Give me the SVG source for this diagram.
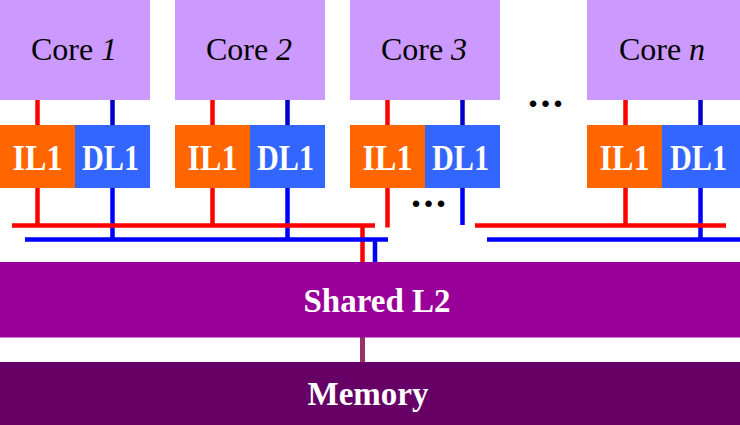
<svg xmlns="http://www.w3.org/2000/svg" width="740" height="425" viewBox="0 0 740 425">
<style>
.core{fill:#CC99FF}
.il1{fill:#FF6600}
.dl1{fill:#3366FF}
text{font-family:'Liberation Serif',serif}
.ct{font-size:32px;fill:#000;text-anchor:middle}
.lt{font-size:35px;font-weight:bold;fill:#fff;text-anchor:middle}
.bt{font-size:33px;font-weight:bold;fill:#fff;text-anchor:middle}
.dots{font-size:40px;font-weight:bold;fill:#000;letter-spacing:2.5px}
.r{stroke:#FF0000;stroke-width:4.5;fill:none}
.bu{stroke:#0000CC;stroke-width:4.5;fill:none}
.b{stroke:#0000FF;stroke-width:4.5;fill:none}
</style>
<rect width="740" height="425" fill="#fff"/>
<g id="connectors">
<path class="r" d="M37.5 100V125M212.5 100V125M387.5 100V125M625.5 100V125"/>
<path class="bu" d="M112.5 100V125M287.5 100V125M462.5 100V125M700.5 100V125"/>
<path class="r" d="M37.5 188V225.5M212.5 188V225.5M387.5 188V227.5M625.5 188V225.5"/>
<path class="b" d="M112.5 188V239.5M287.5 188V239.5M462.5 188V225M700.5 188V239.5"/>
<path class="r" d="M12 225.5H375M362.5 225.5V262M475 225.5H726"/>
<path class="b" d="M25 239.5H388M375 239.5V262M487 239.5H740"/>
<path d="M362.5 337V362" stroke="#993366" stroke-width="5" fill="none"/>
</g>
<g id="core1"><rect class="core" x="0" y="0" width="150" height="100"/><text class="ct" x="74" y="60" font-family="Liberation Serif">Core <tspan font-style="italic">1</tspan></text></g>
<g id="core2"><rect class="core" x="175" y="0" width="150" height="100"/><text class="ct" x="249" y="60" font-family="Liberation Serif">Core <tspan font-style="italic">2</tspan></text></g>
<g id="core3"><rect class="core" x="350" y="0" width="150" height="100"/><text class="ct" x="424" y="60" font-family="Liberation Serif">Core <tspan font-style="italic">3</tspan></text></g>
<g id="coren"><rect class="core" x="587" y="0" width="153" height="100"/><text class="ct" x="662" y="60" font-family="Liberation Serif">Core <tspan font-style="italic">n</tspan></text></g>
<g id="il1-1"><rect class="il1" x="0" y="125" width="75" height="63"/><text class="lt" x="37.5" y="169.5" textLength="50" lengthAdjust="spacingAndGlyphs">IL1</text></g>
<g id="dl1-1"><rect class="dl1" x="75" y="125" width="75" height="63"/><text class="lt" x="110.5" y="169.5" textLength="57" lengthAdjust="spacingAndGlyphs">DL1</text></g>
<g id="il1-2"><rect class="il1" x="175" y="125" width="75" height="63"/><text class="lt" x="212.5" y="169.5" textLength="50" lengthAdjust="spacingAndGlyphs">IL1</text></g>
<g id="dl1-2"><rect class="dl1" x="250" y="125" width="75" height="63"/><text class="lt" x="285.5" y="169.5" textLength="57" lengthAdjust="spacingAndGlyphs">DL1</text></g>
<g id="il1-3"><rect class="il1" x="350" y="125" width="75" height="63"/><text class="lt" x="387.5" y="169.5" textLength="50" lengthAdjust="spacingAndGlyphs">IL1</text></g>
<g id="dl1-3"><rect class="dl1" x="425" y="125" width="75" height="63"/><text class="lt" x="460.5" y="169.5" textLength="57" lengthAdjust="spacingAndGlyphs">DL1</text></g>
<g id="il1-n"><rect class="il1" x="587" y="125" width="75" height="63"/><text class="lt" x="624.5" y="169.5" textLength="50" lengthAdjust="spacingAndGlyphs">IL1</text></g>
<g id="dl1-n"><rect class="dl1" x="662" y="125" width="78" height="63"/><text class="lt" x="698.5" y="169.5" textLength="57" lengthAdjust="spacingAndGlyphs">DL1</text></g>
<g id="l2"><rect x="0" y="262" width="740" height="75.5" fill="#990099"/><text class="bt" x="377" y="311.5">Shared L2</text></g>
<g id="memory"><rect x="0" y="362" width="740" height="63" fill="#660066"/><text class="bt" x="368" y="405">Memory</text></g>
<g id="ellipses">
<text class="dots" x="528" y="106.5">...</text>
<text class="dots" x="411" y="207">...</text>
</g>
</svg>
